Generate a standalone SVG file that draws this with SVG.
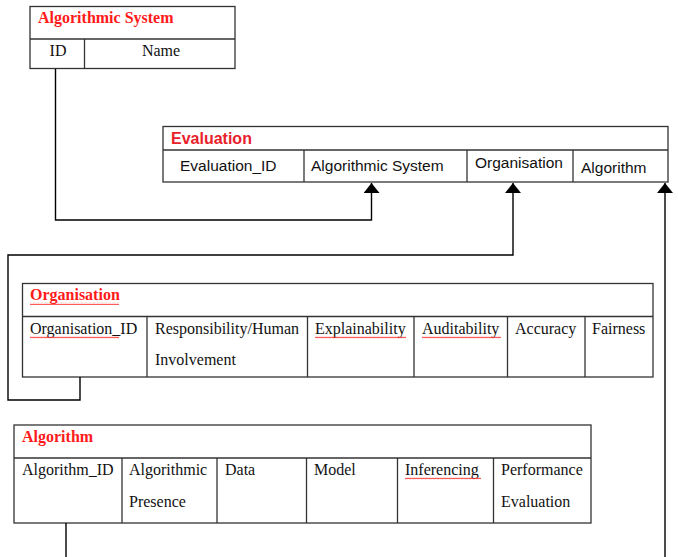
<svg xmlns="http://www.w3.org/2000/svg" width="678" height="557" viewBox="0 0 678 557">
<style>
.box{fill:#fff;stroke:#333;stroke-width:1.3}
.ln{stroke:#333;stroke-width:1.3;fill:none}
.conn{stroke:#000;stroke-width:1.4;fill:none;marker-end:url(#arr)}
.ser{font-family:"Liberation Serif","Times New Roman",serif;font-size:16px;fill:#111}
.serh{font-family:"Liberation Serif","Times New Roman",serif;font-size:16px;font-weight:bold;fill:#ff1a1a}
.san{font-family:"Liberation Sans",Arial,sans-serif;font-size:15.5px;fill:#111}
.sanh{font-family:"Liberation Sans",Arial,sans-serif;font-size:16px;font-weight:bold;fill:#e8202a}
.sq{fill:url(#squig)}
</style>
<defs>
<marker id="arr" viewBox="0 0 10 16" refX="10" refY="8" markerWidth="10" markerHeight="16" markerUnits="userSpaceOnUse" orient="auto">
<path d="M0,0 L10,8 L0,16 Z" fill="#000"/>
</marker>
<pattern id="squig" width="4" height="3" patternUnits="userSpaceOnUse">
<polyline points="0,2.2 1,0.8 2,2.2 3,0.8 4,2.2" fill="none" stroke="#ff3030" stroke-width="0.8"/>
</pattern>
</defs>

<g id="algorithmic-system">
<rect class="box" x="30" y="6.5" width="205" height="62"/>
<line class="ln" x1="30" y1="39" x2="235" y2="39"/>
<line class="ln" x1="84.5" y1="39" x2="84.5" y2="68.5"/>
<text class="serh" x="38" y="23">Algorithmic System</text>
<text class="ser" x="58" y="56" text-anchor="middle">ID</text>
<text class="ser" x="161" y="56" text-anchor="middle">Name</text>
</g>

<g id="evaluation">
<rect class="box" x="163" y="126.5" width="505" height="55.5"/>
<line class="ln" x1="163" y1="150" x2="668" y2="150"/>
<line class="ln" x1="304" y1="150" x2="304" y2="182"/>
<line class="ln" x1="467" y1="150" x2="467" y2="182"/>
<line class="ln" x1="573" y1="150" x2="573" y2="182"/>
<text class="sanh" x="171" y="144">Evaluation</text>
<text class="san" x="180" y="170.5">Evaluation_ID</text>
<text class="san" x="311" y="170.5">Algorithmic System</text>
<text class="san" x="475" y="168">Organisation</text>
<text class="san" x="581" y="172.5">Algorithm</text>
</g>

<g id="organisation">
<rect class="box" x="22.5" y="283.5" width="630.5" height="93.5"/>
<line class="ln" x1="22.5" y1="316.5" x2="653" y2="316.5"/>
<line class="ln" x1="147" y1="316.5" x2="147" y2="377"/>
<line class="ln" x1="307.5" y1="316.5" x2="307.5" y2="377"/>
<line class="ln" x1="414" y1="316.5" x2="414" y2="377"/>
<line class="ln" x1="507.5" y1="316.5" x2="507.5" y2="377"/>
<line class="ln" x1="585" y1="316.5" x2="585" y2="377"/>
<text class="serh" x="30" y="300">Organisation</text>
<rect class="sq" x="30" y="302" width="89" height="3"/>
<text class="ser" x="30" y="334">Organisation_ID</text>
<rect class="sq" x="30" y="336" width="89" height="3"/>
<text class="ser" x="155" y="334">Responsibility/Human</text>
<text class="ser" x="155" y="365">Involvement</text>
<text class="ser" x="315" y="334">Explainability</text>
<rect class="sq" x="315" y="336" width="91" height="3"/>
<text class="ser" x="422" y="334">Auditability</text>
<rect class="sq" x="422" y="336" width="79" height="3"/>
<text class="ser" x="515" y="334">Accuracy</text>
<text class="ser" x="592" y="334">Fairness</text>
</g>

<g id="algorithm">
<rect class="box" x="14" y="425" width="577" height="98"/>
<line class="ln" x1="14" y1="458" x2="591" y2="458"/>
<line class="ln" x1="122" y1="458" x2="122" y2="523"/>
<line class="ln" x1="217" y1="458" x2="217" y2="523"/>
<line class="ln" x1="306.5" y1="458" x2="306.5" y2="523"/>
<line class="ln" x1="397.5" y1="458" x2="397.5" y2="523"/>
<line class="ln" x1="493.5" y1="458" x2="493.5" y2="523"/>
<text class="serh" x="22" y="442">Algorithm</text>
<text class="ser" x="22" y="475">Algorithm_ID</text>
<text class="ser" x="129" y="475">Algorithmic</text>
<text class="ser" x="129" y="507">Presence</text>
<text class="ser" x="225" y="475">Data</text>
<text class="ser" x="314" y="475">Model</text>
<text class="ser" x="405" y="475">Inferencing</text>
<rect class="sq" x="405" y="477" width="76" height="3"/>
<text class="ser" x="501" y="475">Performance</text>
<text class="ser" x="501" y="507">Evaluation</text>
</g>

<g id="connectors">
<path class="conn" d="M55.5,69 V220 H371.5 V183"/>
<path class="conn" d="M80,377 V400 H8 V255 H513 V183"/>
<path class="conn" d="M66,523 V580 H665 V183"/>
</g>
</svg>
